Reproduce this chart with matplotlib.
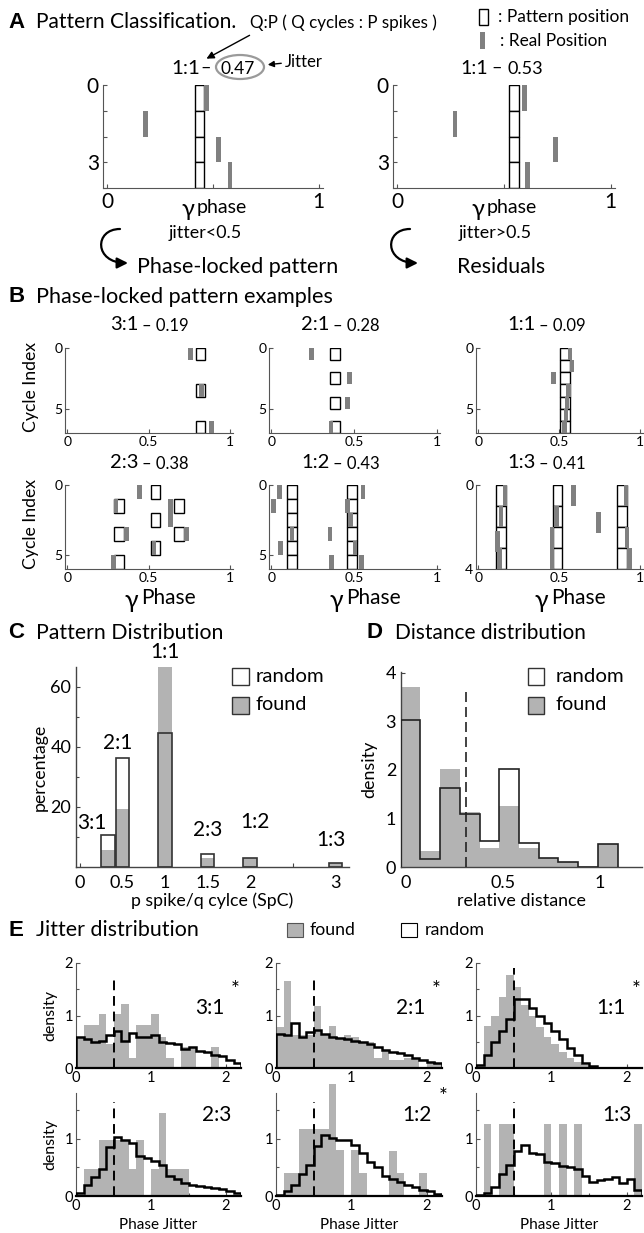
import numpy as np
import matplotlib
matplotlib.use('Agg')
import matplotlib.pyplot as plt
from matplotlib.patches import Rectangle, Ellipse, FancyArrowPatch
from matplotlib.path import Path

plt.rcParams['font.family'] = ['Lato', 'DejaVu Sans']
plt.rcParams['xtick.direction'] = 'in'
plt.rcParams['ytick.direction'] = 'in'

# ---------------- data ----------------
# A: pattern boxes (phase, cycle) and real spikes (phase, cycle)
a_titles = [('1:1', '0.47'), ('1:1', '0.53')]
a_boxes = [[(0.436, c) for c in range(4)], [(0.547, c) for c in range(4)]]
a_spikes = [[(0.47, 0), (0.18, 1), (0.525, 2), (0.58, 3)],
            [(0.595, 0), (0.27, 1), (0.74, 2), (0.61, 3)]]

# B: phase-locked examples
b_titles = [('3:1', '0.19'), ('2:1', '0.28'), ('1:1', '0.09'),
            ('2:3', '0.38'), ('1:2', '0.43'), ('1:3', '0.41')]
b_ncyc = [7, 7, 7, 6, 6, 4]
b_boxes = [
    [(0.82, 0), (0.82, 3), (0.82, 6)],
    [(0.386, 0), (0.386, 2), (0.386, 4), (0.386, 6)],
    [(0.537, c) for c in range(7)],
    [(0.542, 0), (0.316, 1), (0.686, 1), (0.542, 2), (0.316, 3), (0.686, 3), (0.542, 4), (0.316, 5)],
    [(0.123, c) for c in range(6)] + [(0.485, c) for c in range(6)],
    [(0.14, c) for c in range(4)] + [(0.49, c) for c in range(4)] + [(0.89, c) for c in range(4)],
]
b_spikes = [
    [(0.757, 0), (0.825, 3), (0.887, 6)],
    [(0.243, 0), (0.472, 2), (0.46, 4), (0.36, 6)],
    [(0.567, 0), (0.58, 1), (0.466, 2), (0.557, 3), (0.548, 4), (0.542, 5), (0.535, 6)],
    [(0.445, 0), (0.3, 1), (0.635, 1), (0.635, 2), (0.365, 3), (0.735, 3), (0.532, 4), (0.285, 5)],
    [(0.05, 0), (0.555, 0), (0.012, 1), (0.462, 1), (0.48, 2), (0.125, 3), (0.355, 3),
     (0.055, 4), (0.506, 4), (0.362, 5), (0.545, 5)],
    [(0.165, 0), (0.59, 0), (0.915, 0), (0.14, 1), (0.485, 1), (0.745, 1.3), (0.118, 2.2),
     (0.455, 2), (0.92, 2), (0.13, 3), (0.455, 3), (0.935, 3)],
]

# C: pattern distribution
c_labels = ['3:1', '2:1', '1:1', '2:3', '1:2', '1:3']
c_spc = [1 / 3, 1 / 2, 1, 1.5, 2, 3]
c_random = [10.5, 36.3, 44.5, 4.2, 3.1, 1.3]
c_found = [5.8, 19.2, 66.5, 2.9, 3.1, 1.3]

# D: distance distribution
d_edges = [-0.028, 0.074, 0.176, 0.278, 0.38, 0.482, 0.584, 0.686, 0.788, 0.89, 0.992, 1.094]
d_found = [3.72, 0.34, 2.03, 1.14, 0.4, 1.26, 0.4, 0.18, 0.1, 0, 0.47]
d_random = [3.04, 0.17, 1.63, 1.1, 0.54, 2.03, 0.5, 0.18, 0.1, 0, 0.48]
d_thresh = 0.31

# E: jitter distribution (bins of 0.1 from 0 to 2.2)
e_labels = ['3:1', '2:1', '1:1', '2:3', '1:2', '1:3']
e_star = [True, True, True, False, True, False]
e_found = [
    [0.6, 0.82, 0.82, 1.02, 0.45, 1.02, 1.22, 0.2, 0.82, 0.82, 1.02, 0.6, 0.2, 0, 0.4, 0.4, 0, 0, 0.4, 0, 0, 0],
    [0.78, 1.65, 0.62, 0.62, 0.62, 1.18, 0.62, 0.8, 0.55, 0.62, 0.6, 0.5, 0.5, 0.2, 0.35, 0.15, 0.15, 0.2, 0.2, 0, 0.1, 0.1],
    [0.05, 0.8, 1.0, 1.35, 1.78, 1.55, 1.2, 1.0, 0.78, 0.6, 0.45, 0.3, 0.2, 0.12, 0.05, 0.02, 0, 0, 0, 0, 0, 0],
    [0, 0.48, 0.48, 0.98, 0.98, 0.98, 0.98, 0.48, 0.98, 0, 0.48, 1.45, 0.48, 0.48, 0.48, 0, 0, 0, 0, 0, 0, 0],
    [0, 0.4, 0.4, 1.17, 1.17, 1.17, 1.17, 1.95, 0.8, 0, 0.8, 0.4, 0, 0, 0, 0.78, 0.4, 0, 0, 0.4, 0, 0],
    [0, 1.25, 0, 1.25, 1.25, 0, 0, 0, 0, 1.25, 0, 1.25, 0, 1.25, 0, 0, 0, 0, 0, 0, 0, 1.25],
]
e_random = [
    [0.6, 0.55, 0.5, 0.52, 0.62, 0.7, 0.52, 0.66, 0.6, 0.6, 0.62, 0.5, 0.48, 0.46, 0.36, 0.4, 0.33, 0.3, 0.25, 0.22, 0.15, 0.1],
    [0.65, 0.62, 0.85, 0.6, 0.68, 0.72, 0.65, 0.6, 0.58, 0.55, 0.52, 0.5, 0.45, 0.4, 0.35, 0.3, 0.28, 0.25, 0.2, 0.15, 0.12, 0.1],
    [0.05, 0.25, 0.5, 0.7, 0.93, 1.32, 1.32, 1.15, 1.0, 0.85, 0.7, 0.55, 0.38, 0.25, 0.1, 0.03, 0, 0, 0, 0, 0, 0],
    [0.05, 0.2, 0.33, 0.48, 0.85, 1.03, 0.97, 0.92, 0.7, 0.66, 0.62, 0.55, 0.35, 0.3, 0.22, 0.2, 0.18, 0.16, 0.14, 0.12, 0.08, 0.05],
    [0.02, 0.08, 0.2, 0.38, 0.54, 0.87, 1.06, 1.02, 0.98, 0.98, 0.9, 0.75, 0.6, 0.5, 0.35, 0.3, 0.25, 0.2, 0.15, 0.1, 0.08, 0.04],
    [0.02, 0.05, 0.15, 0.38, 0.55, 0.78, 0.9, 0.75, 0.73, 0.6, 0.58, 0.52, 0.5, 0.48, 0.35, 0.25, 0.28, 0.3, 0.33, 0.22, 0.3, 0.1],
]
e_thresh = 0.5

GRAY = '#b3b3b3'
SPIKE = '#808080'

# ---------------- layout ----------------
W, H = 644, 1233
fig = plt.figure(figsize=(W / 100, H / 100), dpi=100)
R = fig.canvas.get_renderer()
bg = fig.add_axes([0, 0, 1, 1])
bg.set_xlim(0, W)
bg.set_ylim(H, 0)
bg.axis('off')


def add_ax(x0, x1, y0, y1):
    return fig.add_axes([x0 / W, 1 - y1 / H, (x1 - x0) / W, (y1 - y0) / H])


def fit(t, target, dim='w'):
    # scale font so the text spans target pixels
    bb = t.get_window_extent(R)
    cur = bb.width if dim == 'w' else bb.height
    t.set_fontsize(t.get_fontsize() * target / cur)
    return t.get_fontsize()


def ftext(x0, x1, y, s, **kw):
    t = bg.text(x0, y, s, fontsize=10, ha='left', va='center', **kw)
    return fit(t, x1 - x0)


def ticks(ax, axis, vals, labels=None, size=10):
    if labels is None:
        labels = ['%g' % v for v in vals]
    if axis == 'x':
        ax.set_xticks(vals, labels, fontsize=size)
    else:
        ax.set_yticks(vals, labels, fontsize=size)


def clean(ax, col='#555555', lw=0.8):
    ax.spines['top'].set_visible(False)
    ax.spines['right'].set_visible(False)
    for s in ('left', 'bottom'):
        ax.spines[s].set_color(col)
        ax.spines[s].set_linewidth(lw)
    ax.tick_params(which='both', color=col, length=3, width=0.8)
    ax.tick_params(which='minor', length=2)
    ax.patch.set_alpha(0)


def head(x, y, letter, text, x1):
    bg.text(x, y, letter, fontsize=16, fontweight='bold', family='Liberation Sans', va='center')
    ftext(x + 28, x1, y, text)


def pattern(ax, boxes, spikes, ncyc, bw, sw):
    ax.bar([p for p, c in boxes], 1, bottom=[c for p, c in boxes], width=bw,
           facecolor='white', edgecolor='k', lw=1, zorder=2)
    ax.bar([p for p, c in spikes], 1, bottom=[c for p, c in spikes], width=sw,
           color=SPIKE, lw=0, zorder=3)
    ax.set_ylim(ncyc, 0)


# ---------------- A ----------------
head(8, 22, 'A', 'Pattern Classification.', 237)
ftext(250, 437, 23, 'Q:P ( Q cycles : P spikes )')
bg.add_patch(Rectangle((479, 9), 9, 16, fc='white', ec='k', lw=1))
ftext(498, 630, 17, ': Pattern position')
bg.add_patch(Rectangle((480, 32), 5, 17, fc=SPIKE, lw=0))
ftext(500, 607, 41, ': Real Position')
bg.annotate('', xy=(204, 60), xytext=(252, 34),
            arrowprops=dict(arrowstyle='-|>', color='k', lw=1, mutation_scale=11))

a_x = [(103, 323), (393, 615)]
a_tx = [(171, 200, 206, 221, 12.5), (460, 488, 497, 508, 13)]
for i, (x0, x1) in enumerate(a_x):
    ax = add_ax(x0, x1, 85, 188)
    pattern(ax, a_boxes[i], a_spikes[i], 4, 0.044, 0.022)
    ax.set_xlim(-0.02, 1.02)
    ticks(ax, 'x', [0, 0.5, 1], ['0', '', '1'], 15)
    ticks(ax, 'y', [0, 1, 2, 3, 4], ['0', '', '', '3', ''], 15)
    ax.tick_params(pad=3)
    clean(ax)
    r0, r1, dxm, j0, jsz = a_tx[i]
    ftext(r0, r1, 68, a_titles[i][0])
    bg.text(dxm, 68, '–', fontsize=13, ha='center', va='center')
    bg.text(j0, 69, a_titles[i][1], fontsize=jsz, ha='left', va='center')
    dx = x0 - 103
    bg.text(181 + dx, 210, 'γ', fontsize=17, ha='left', va='center')
    bg.text(197 + dx, 208, 'phase', fontsize=14, ha='left', va='center')
    ftext(169 + dx, 242 + dx, 233, 'jitter<0.5' if i == 0 else 'jitter>0.5')
    arc = Path([(120 + dx, 229), (94 + dx, 229), (94 + dx, 263), (128 + dx, 263)],
               [Path.MOVETO, Path.CURVE4, Path.CURVE4, Path.CURVE4])
    bg.add_patch(FancyArrowPatch(path=arc, arrowstyle='-|>', mutation_scale=16, lw=1.6, color='k'))
    if i == 0:
        ftext(137, 338, 267, 'Phase-locked pattern')
    else:
        ftext(457, 545, 267, 'Residuals')

bg.add_patch(Ellipse((240, 67), 48, 24, ec='#9a9a9a', fc='none', lw=1.6))
bg.annotate('', xy=(265, 65), xytext=(284, 63),
            arrowprops=dict(arrowstyle='-|>', color='k', lw=1, mutation_scale=9))
ftext(285, 323, 62, 'Jitter')

# ---------------- B ----------------
head(8, 297, 'B', 'Phase-locked pattern examples', 333)
b_x = [(65, 233), (269, 440), (476, 643)]
b_y = [(348, 433), (485, 569)]
b_ty = [325, 463]
b_tx = [110, 301, 507]
for k in range(6):
    r, c = divmod(k, 3)
    x0, x1 = b_x[c]
    y0, y1 = b_y[r]
    ax = add_ax(x0, x1, y0, y1)
    pattern(ax, b_boxes[k], b_spikes[k], b_ncyc[k], 0.06, 0.028)
    ax.set_xlim(-0.015, 1.02)
    ticks(ax, 'x', [0, 0.5, 1], None, 10)
    ticks(ax, 'y', [0, 4 if b_ncyc[k] == 4 else 5], None, 10)
    ax.tick_params(pad=2)
    clean(ax)
    t = bg.text(b_tx[c], b_ty[r], b_titles[k][0], fontsize=14.5, ha='left', va='center')
    xe = t.get_window_extent(R).x1
    bg.text(xe + 4, b_ty[r] + 1, '– ' + b_titles[k][1], fontsize=12, ha='left', va='center')
    xc = (x0 + x1) / 2
    if c == 0:
        tt = bg.text(31, (y0 + y1) / 2 - 3, 'Cycle Index', fontsize=10, rotation=90,
                     ha='center', va='center')
        fit(tt, 90, 'h')
    if r == 1:
        bg.text(xc - 11, 600, 'γ', fontsize=18, ha='right', va='center')
        bg.text(xc - 8, 598, 'Phase', fontsize=15, ha='left', va='center')

# ---------------- C ----------------
head(8, 633, 'C', 'Pattern Distribution', 223)
ax = add_ax(76, 349, 667, 867)
ax.bar(c_spc, c_found, width=0.16, color=GRAY, lw=0, zorder=2, clip_on=False)
ax.bar(c_spc, c_random, width=0.16, fill=False, edgecolor='#333333', lw=1.2, zorder=3)
ax.set_xlim(-0.045, 3.16)
ax.set_ylim(0, 66.5)
ticks(ax, 'x', [0, 0.5, 1, 1.5, 2, 2.5, 3], ['0', '0.5', '1', '1.5', '2', '', '3'], 13)
ticks(ax, 'y', [20, 40, 60], None, 13)
ax.set_yticks([10, 30, 50], minor=True)
ax.tick_params(axis='x', pad=6)
clean(ax, '#444444', 1.0)
fit(ax.set_xlabel('p spike/q cylce (SpC)', fontsize=12, labelpad=1), 162)
fit(ax.set_ylabel('percentage', fontsize=12, labelpad=2), 87, 'h')
c_label_xy = [(0.14, 14.6), (0.44, 41.2), (1.0, 71.5), (1.5, 12.3), (2.06, 15.0), (2.95, 9.0)]
for lab, (lx, ly) in zip(c_labels, c_label_xy):
    ax.text(lx, ly, lab, fontsize=15, ha='center', va='center', clip_on=False)
for yy, fc, lab, xe in [(668, 'white', 'random', 325), (697, GRAY, 'found', 308)]:
    bg.add_patch(Rectangle((232, yy), 17, 17, fc=fc, ec='#333333', lw=1))
    ftext(256, xe, yy + 8, lab)

# ---------------- D ----------------
head(367, 633, 'D', 'Distance distribution', 587)
ax = add_ax(401, 642, 672, 867)
ax.bar(d_edges[:-1], d_found, width=np.diff(d_edges), align='edge', color=GRAY, lw=0, zorder=2)
ax.stairs(d_random, d_edges, baseline=0, color='#222222', lw=1.2, zorder=3)
ax.vlines(d_thresh, 0, 3.65, colors='#222222', linestyles=(0, (6, 3)), lw=1.2, zorder=4)
ax.set_xlim(-0.026, 1.22)
ax.set_ylim(0, 4.02)
ticks(ax, 'x', [0, 0.5, 1], None, 13)
ticks(ax, 'y', [0, 1, 2, 3, 4], None, 13)
ax.tick_params(axis='x', pad=6)
clean(ax, '#444444', 1.0)
fit(ax.set_xlabel('relative distance', fontsize=12, labelpad=1), 128)
fit(ax.set_ylabel('density', fontsize=12, labelpad=6), 57, 'h')
for yy, fc, lab, xe in [(668, 'white', 'random', 625), (697, GRAY, 'found', 608)]:
    bg.add_patch(Rectangle((528, yy), 16, 17, fc=fc, ec='#333333', lw=1))
    ftext(556, xe, yy + 8, lab)

# ---------------- E ----------------
head(8, 930, 'E', 'Jitter distribution', 199)
bg.add_patch(Rectangle((287, 923), 16, 14, fc=GRAY, ec='#555555', lw=0.8))
ftext(310, 356, 930, 'found')
bg.add_patch(Rectangle((401, 923), 16, 14, fc='white', ec='k', lw=0.8))
ftext(425, 485, 930, 'random')

e_edges = np.linspace(0, 2.2, 23)
e_x = [(76, 241), (276, 442), (476, 642)]
e_y = [(963, 1068), (1093, 1196)]
e_top = [2.0, 1.8]
e_dash = [[1.72, 1.75, 1.9], [1.65, 1.65, 1.65]]
for k in range(6):
    r, c = divmod(k, 3)
    x0, x1 = e_x[c]
    y0, y1 = e_y[r]
    ax = add_ax(x0, x1, y0, y1)
    ax.bar(e_edges[:-1], e_found[k], width=0.1, align='edge', color=GRAY, lw=0, zorder=2, clip_on=False)
    ax.stairs(e_random[k], e_edges, baseline=0, color='k', lw=1.8, zorder=3)
    ax.vlines(e_thresh, 0, e_dash[r][c], colors='k', linestyles=(0, (5, 3)), lw=1.4, zorder=4)
    ax.set_xlim(0, 2.2)
    ax.set_ylim(0, e_top[r])
    ticks(ax, 'x', [0, 1, 2], None, 10.5)
    ax.set_xticks([0.5, 1.5], minor=True)
    ticks(ax, 'y', [0, 1, 2] if r == 0 else [0, 1], None, 10.5)
    ax.set_yticks([0.5, 1.5], minor=True)
    ax.tick_params(pad=2)
    clean(ax, '#555555', 0.8)
    ax.spines['bottom'].set_color('k')
    ax.spines['bottom'].set_linewidth(1.6)
    lx, ly = (0.81, 0.57) if r == 0 else (0.85, 0.79)
    ax.text(lx, ly, e_labels[k], fontsize=15, ha='center', va='center', transform=ax.transAxes)
    if e_star[k]:
        ax.text(lx + 0.155, ly + 0.17, '*', fontsize=15, ha='center', va='center',
                transform=ax.transAxes, clip_on=False)
    if c == 0:
        ax.set_ylabel('density', fontsize=11.5, labelpad=5)
    if r == 1:
        ax.set_xlabel('Phase Jitter', fontsize=11, labelpad=4)

fig.savefig('out.png', dpi=100)
